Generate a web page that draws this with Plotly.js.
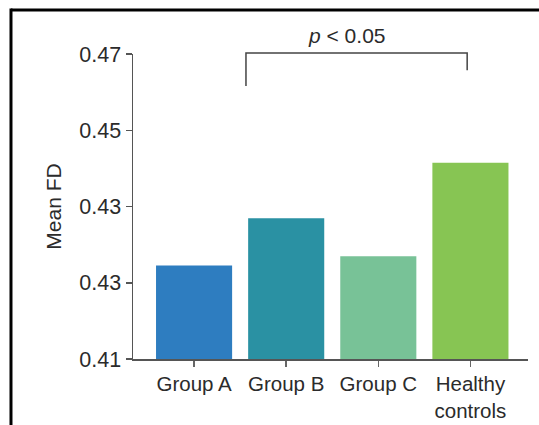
<!DOCTYPE html>
<html>
<head>
<meta charset="utf-8">
<script src="https://cdn.plot.ly/plotly-3.0.1.min.js"></script>
<style>html,body{margin:0;padding:0;background:#fff;}#chart{width:539px;height:425px;}</style>
</head>
<body>
<div id="chart"></div>
<script>
var categories = ["Group A", "Group B", "Group C", "Healthy<br>controls"];
var meanFD = [0.4284, 0.4377, 0.4302, 0.4486];
var barColors = ["#2E7DC0", "#2A91A3", "#78C297", "#87C553"];
var tickValues = [0.41, 0.425, 0.44, 0.455, 0.47];
var tickLabels = ["0.41", "0.43", "0.43", "0.45", "0.47"];
var pText = "<i>p</i> < 0.05";

var txt = "#2b2b2b";
var fontFam = "Liberation Sans, Arial, Helvetica, sans-serif";

var trace = {
  type: "bar",
  x: categories,
  y: meanFD,
  width: 0.826,
  marker: {color: barColors, line: {width: 0}},
  hoverinfo: "skip"
};

var layout = {
  width: 539, height: 425,
  margin: {l: 133, r: 11, t: 54, b: 66, pad: 0},
  paper_bgcolor: "#fff", plot_bgcolor: "#fff",
  showlegend: false,
  font: {family: fontFam, size: 20, color: txt},
  xaxis: {
    type: "category",
    range: [-0.663, 3.625],
    showline: true, linecolor: "#555", linewidth: 1.5,
    ticks: "outside", ticklen: 6, tickcolor: "#666", tickwidth: 1.5,
    showgrid: false, zeroline: false,
    tickfont: {size: 20.5, color: txt}
  },
  yaxis: {
    range: [0.41, 0.47],
    tickmode: "array", tickvals: tickValues, ticktext: tickLabels,
    showline: true, linecolor: "#555", linewidth: 1.5,
    ticks: "outside", ticklen: 6, tickcolor: "#555", tickwidth: 1.5,
    showgrid: false, zeroline: false,
    tickfont: {size: 21.5, color: txt},
    title: {text: "Mean FD", font: {size: 21, color: txt}, standoff: 12}
  },
  shapes: [
    {type: "line", xref: "paper", yref: "paper", x0: -0.3089, x1: 1.1, y0: 1.1443, y1: 1.1443, line: {color: "#000", width: 3}},
    {type: "line", xref: "paper", yref: "paper", x0: -0.3089, x1: -0.3089, y0: 1.149, y1: -0.3, line: {color: "#000", width: 3}},
    {type: "path", xref: "paper", yref: "paper",
     path: "M 0.286 0.895 L 0.286 1.003 L 0.846 1.003 L 0.846 0.947",
     line: {color: "#444", width: 1.5}}
  ],
  annotations: [
    {xref: "paper", yref: "paper", x: 0.5418, y: 1.062, text: pText, showarrow: false,
     xanchor: "center", yanchor: "middle", font: {size: 21, color: txt}}
  ]
};

Plotly.newPlot("chart", [trace], layout, {displayModeBar: false, staticPlot: true});
</script>
</body>
</html>
